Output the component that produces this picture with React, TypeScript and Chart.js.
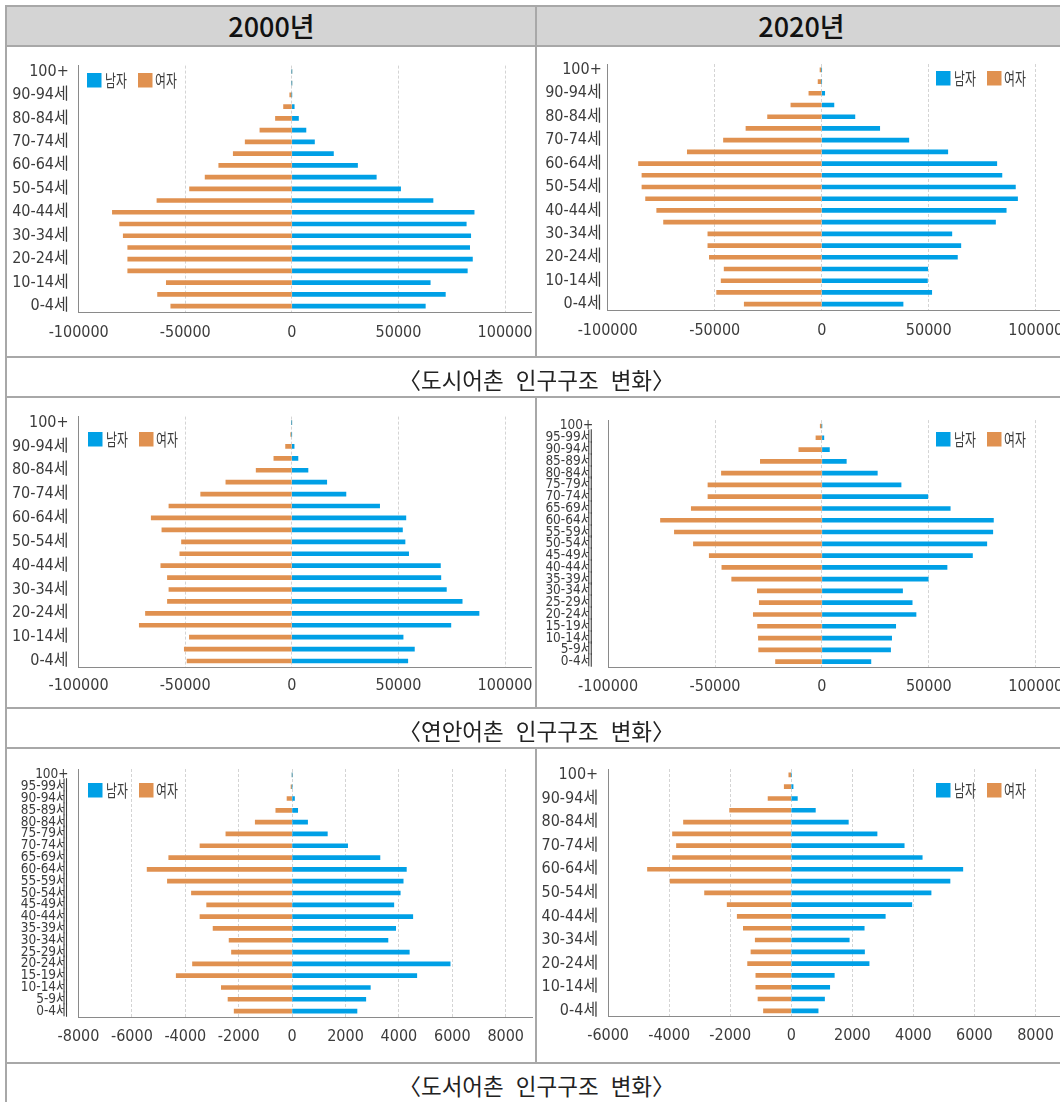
import React, { useEffect, useMemo, useRef } from 'react';
import { Chart, registerables } from 'chart.js';

Chart.register(...registerables);

// ---------- data ----------
const ageGroups = [
  '0-4세', '5-9세', '10-14세', '15-19세', '20-24세', '25-29세', '30-34세', '35-39세',
  '40-44세', '45-49세', '50-54세', '55-59세', '60-64세', '65-69세', '70-74세', '75-79세',
  '80-84세', '85-89세', '90-94세', '95-99세', '100+',
];
const legendNames = ['남자', '여자'];
const yearTitles = ['2000년', '2020년'];
const captionTexts = [
  '〈도시어촌 인구구조 변화〉',
  '〈연안어촌 인구구조 변화〉',
  '〈도서어촌 인구구조 변화〉',
];

// values from 0-4세 up to 100+
const urban2000Male = [62600, 72000, 64900, 82300, 84700, 83400, 83900, 81800, 85500, 66200, 51000, 39600, 30800, 19500, 10600, 6600, 3100, 1100, 0, 0, 0];
const urban2000Female = [56800, 63000, 58900, 77000, 77000, 77000, 79100, 80800, 84200, 63300, 48000, 40700, 34300, 27500, 21900, 15000, 7700, 3900, 1000, 0, 0];
const urban2020Male = [38000, 51400, 49400, 49500, 63400, 65000, 60800, 81200, 86200, 91500, 90500, 84200, 81800, 58900, 40700, 27100, 15500, 5700, 1400, 0, 0];
const urban2020Female = [36200, 49100, 47000, 45600, 52500, 53200, 53200, 73900, 77100, 82300, 84000, 84000, 85600, 62800, 45900, 35400, 25300, 14400, 6000, 1700, 800];
const coast2000Male = [54400, 57500, 52200, 74600, 87800, 79900, 72500, 69900, 69700, 54800, 53100, 51900, 53500, 41200, 25400, 16400, 7600, 2900, 1100, 0, 0];
const coast2000Female = [49100, 50400, 48000, 71500, 68600, 58300, 57600, 58300, 61400, 52500, 51700, 60900, 65900, 57600, 42700, 30900, 16700, 8400, 2900, 500, 0];
const coast2020Male = [22900, 32100, 32600, 34500, 44000, 42200, 37700, 49700, 58500, 70400, 77100, 79900, 80200, 60000, 49500, 37000, 25900, 11400, 3500, 900, 0];
const coast2020Female = [21700, 29600, 29700, 30100, 32100, 29300, 30200, 42200, 46800, 52700, 60100, 69000, 75500, 61100, 53300, 53300, 47000, 28800, 10800, 2800, 800];
const island2000Male = [2430, 2760, 2930, 4670, 5920, 4390, 3590, 3880, 4520, 3810, 4050, 4160, 4280, 3290, 2080, 1320, 580, 210, 90, 0, 0];
const island2000Female = [2170, 2400, 2650, 4340, 3730, 2270, 2360, 2960, 3450, 3200, 3770, 4670, 5430, 4620, 3450, 2480, 1380, 610, 190, 40, 0];
const island2020Male = [880, 1090, 1260, 1410, 2550, 2400, 1900, 2390, 3080, 3950, 4580, 5200, 5620, 4290, 3700, 2810, 1870, 790, 200, 60, 0];
const island2020Female = [910, 1090, 1160, 1160, 1430, 1320, 1180, 1570, 1770, 2100, 2840, 3970, 4710, 3890, 3760, 3890, 3530, 2020, 760, 230, 80];

const xTicksLarge = [-100000, -50000, 0, 50000, 100000];
const xTicksIsland2000 = [-8000, -6000, -4000, -2000, 0, 2000, 4000, 6000, 8000];
const xTicksIsland2020 = [-6000, -4000, -2000, 0, 2000, 4000, 6000, 8000];

// ---------- style ----------
const MALE_COLOR = '#00A0E6';
const FEMALE_COLOR = '#E09150';
const TEXT_COLOR = '#3c3c3c';
const AXIS_COLOR = '#8a8a8a';
const GRID_COLOR = '#d4d4d4';
const LINE_COLOR = '#a8a8a8';
const HEADER_BG = '#d4d4d4';
const CJK = "'Noto Sans CJK KR', sans-serif";

const CELL_W = 529;

type Spec = {
  male: number[]; female: number[]; ticks: number[];
  min: number; max: number;
  left: number; top: number; h: number;
  axisLeft: number; padTop: number; xAxisH: number; padRight: number;
  yFont: number; yEvery: number; yPad: number; xPad: number;
  legendX: number; legendY: number;
};

const specs: Spec[] = [
  { male: urban2000Male, female: urban2000Female, ticks: xTicksLarge, min: -100000, max: 112500,
    left: 7, top: 46, h: 311, axisLeft: 71.7, padTop: 19, xAxisH: 45, padRight: 4.3,
    yFont: 16, yEvery: 2, yPad: 10, xPad: 11.5, legendX: 80, legendY: 27 },
  { male: urban2020Male, female: urban2020Female, ticks: xTicksLarge, min: -100000, max: 112500,
    left: 537, top: 46, h: 311, axisLeft: 70.7, padTop: 18, xAxisH: 47, padRight: 3.5,
    yFont: 16, yEvery: 2, yPad: 6, xPad: 11.5, legendX: 399, legendY: 25 },
  { male: coast2000Male, female: coast2000Female, ticks: xTicksLarge, min: -100000, max: 112500,
    left: 7, top: 397, h: 311, axisLeft: 71.5, padTop: 19.4, xAxisH: 41, padRight: 4.3,
    yFont: 16, yEvery: 2, yPad: 10, xPad: 9.5, legendX: 81, legendY: 35 },
  { male: coast2020Male, female: coast2020Female, ticks: xTicksLarge, min: -100000, max: 112500,
    left: 537, top: 397, h: 311, axisLeft: 71.1, padTop: 19.3, xAxisH: 40.5, padRight: 3.5,
    yFont: 13.5, yEvery: 1, yPad: 15, xPad: 9.5, legendX: 399, legendY: 35 },
  { male: island2000Male, female: island2000Female, ticks: xTicksIsland2000, min: -8000, max: 9000,
    left: 7, top: 748, h: 315, axisLeft: 71.5, padTop: 21, xAxisH: 46, padRight: 3.6,
    yFont: 13.5, yEvery: 1, yPad: 10, xPad: 9.8, legendX: 81, legendY: 35 },
  { male: island2020Male, female: island2020Female, ticks: xTicksIsland2020, min: -6000, max: 9000,
    left: 537, top: 748, h: 315, axisLeft: 71.1, padTop: 21, xAxisH: 46.3, padRight: 0,
    yFont: 16, yEvery: 2, yPad: 10, xPad: 9.8, legendX: 399, legendY: 35 },
];

function fontAvailable(name: string): boolean {
  const c = document.createElement('canvas').getContext('2d');
  if (!c) return false;
  const s = '0123456789-+abcdefgh';
  c.font = '40px monospace';
  const a = c.measureText(s).width;
  c.font = `40px '${name}', monospace`;
  const b = c.measureText(s).width;
  c.font = '40px serif';
  const a2 = c.measureText(s).width;
  c.font = `40px '${name}', serif`;
  const b2 = c.measureText(s).width;
  return a !== b || a2 !== b2;
}

function pickNumberFamily(): string {
  const candidates = ['Liberation Sans Narrow', 'DejaVu Sans Condensed', 'Liberation Sans'];
  for (const c of candidates) {
    if (fontAvailable(c)) return `'${c}', ${CJK}`;
  }
  return CJK;
}

function Pyramid({ spec, fam }: { spec: Spec; fam: string }) {
  const ref = useRef<HTMLCanvasElement>(null);
  useEffect(() => {
    const canvas = ref.current;
    if (!canvas) return;
    const s = spec;
    const legendPlugin = {
      id: 'insideLegend',
      afterDraw(chart: any) {
        const ctx = chart.ctx as CanvasRenderingContext2D;
        const items = [
          { name: legendNames[0], color: MALE_COLOR, boxX: s.legendX, textX: s.legendX + 18 },
          { name: legendNames[1], color: FEMALE_COLOR, boxX: s.legendX + 51, textX: s.legendX + 68 },
        ];
        ctx.save();
        for (const it of items) {
          ctx.fillStyle = it.color;
          ctx.fillRect(it.boxX, s.legendY, 14.5, 14.5);
          ctx.save();
          ctx.translate(it.textX, s.legendY + 7.5);
          ctx.scale(0.7, 1);
          ctx.font = `17px ${CJK}`;
          ctx.fillStyle = TEXT_COLOR;
          ctx.textBaseline = 'middle';
          ctx.textAlign = 'left';
          ctx.fillText(it.name, 0, 0);
          ctx.restore();
        }
        ctx.restore();
      },
    };
    const chart = new Chart(canvas, {
      type: 'bar',
      data: {
        labels: ageGroups,
        datasets: [
          { label: legendNames[0], data: s.male, backgroundColor: MALE_COLOR, barThickness: 4 },
          { label: legendNames[1], data: s.female.map((v) => -v), backgroundColor: FEMALE_COLOR, barThickness: 4 },
        ],
      },
      options: {
        indexAxis: 'y',
        responsive: false,
        animation: false,
        events: [],
        layout: { padding: { top: s.padTop, right: s.padRight, bottom: 0, left: 0 } },
        plugins: { legend: { display: false }, tooltip: { enabled: false } },
        scales: {
          x: {
            stacked: true,
            min: s.min,
            max: s.max,
            grid: {
              color: GRID_COLOR, lineWidth: 1, drawTicks: true,
              tickLength: s.xPad, tickColor: 'rgba(0,0,0,0)',
            },
            border: { display: true, color: AXIS_COLOR, width: 1, dash: [3, 2] },
            ticks: {
              padding: 0,
              color: TEXT_COLOR,
              autoSkip: false,
              maxRotation: 0,
              font: { family: fam, size: 16 },
              callback: (v: any) => String(v),
            },
            afterBuildTicks: (axis: any) => {
              axis.ticks = s.ticks.map((v) => ({ value: v }));
            },
            afterFit: (axis: any) => {
              axis.height = s.xAxisH;
              axis.paddingRight = 0;
            },
          },
          y: {
            stacked: true,
            reverse: true,
            grid: { display: false, drawTicks: false },
            border: { display: true, color: AXIS_COLOR, width: 1 },
            ticks: {
              padding: s.yPad,
              color: TEXT_COLOR,
              autoSkip: false,
              font: { family: fam, size: s.yFont },
              callback: (_v: any, i: number) => (i % s.yEvery === 0 ? ageGroups[i] : ''),
            },
            afterFit: (axis: any) => {
              axis.width = s.axisLeft;
            },
          },
        },
      } as any,
      plugins: [legendPlugin],
    });
    return () => chart.destroy();
  }, [spec, fam]);
  return (
    <canvas
      ref={ref}
      width={CELL_W}
      height={spec.h}
      style={{ position: 'absolute', left: spec.left, top: spec.top, width: CELL_W, height: spec.h }}
    />
  );
}

function HLine({ top, left = 6, width = 1060 }: { top: number; left?: number; width?: number }) {
  return <div style={{ position: 'absolute', left, top, width, height: 2, background: LINE_COLOR }} />;
}
function VLine({ left, top, height }: { left: number; top: number; height: number }) {
  return <div style={{ position: 'absolute', left, top, width: 2, height, background: LINE_COLOR }} />;
}

export default function App() {
  const fam = useMemo(() => pickNumberFamily(), []);
  const captionTops = [357, 708, 1063];
  return (
    <div
      style={{
        position: 'absolute', left: 0, top: 0, width: 1060, height: 1102,
        overflow: 'hidden', background: '#ffffff', fontFamily: CJK,
      }}
    >
      {/* header */}
      <div style={{ position: 'absolute', left: 7, top: 6, width: 1060, height: 40, background: HEADER_BG }} />
      {yearTitles.map((t, i) => (
        <div
          key={t}
          style={{
            position: 'absolute', left: i === 0 ? 7 : 537, top: 6, width: CELL_W, height: 40,
            display: 'flex', alignItems: 'center', justifyContent: 'center',
            fontSize: 27, fontWeight: 500, color: '#111', lineHeight: '40px',
          }}
        >
          {t}
        </div>
      ))}
      {specs.map((s, i) => (
        <Pyramid key={i} spec={s} fam={fam} />
      ))}
      {captionTexts.map((c, i) => (
        <div
          key={c}
          style={{
            position: 'absolute', left: 7, top: captionTops[i] + 2, width: 1059, height: 40,
            display: 'flex', alignItems: 'center', justifyContent: 'center',
            fontSize: 22.5, color: '#222', lineHeight: '40px', wordSpacing: 7,
          }}
        >
          {c}
        </div>
      ))}
      {/* grid lines */}
      <HLine top={5} />
      <HLine top={45} />
      <HLine top={356} />
      <HLine top={396} />
      <HLine top={707} />
      <HLine top={747} />
      <HLine top={1062} />
      <VLine left={5} top={5} height={1097} />
      <VLine left={535} top={5} height={352} />
      <VLine left={535} top={396} height={312} />
      <VLine left={535} top={747} height={316} />
    </div>
  );
}
